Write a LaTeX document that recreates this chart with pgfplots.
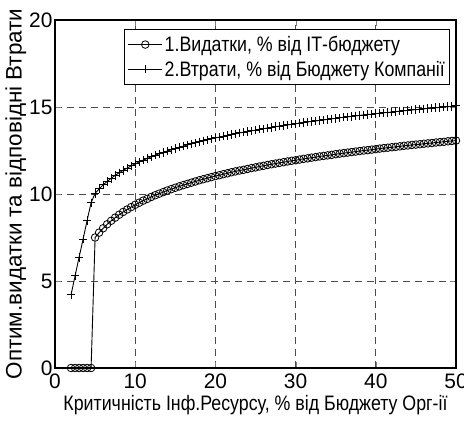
\documentclass[border=0pt]{standalone}
\usepackage{pgfplots}
\pgfplotsset{compat=1.18}
\usepackage{fontspec}
\setmainfont{Liberation Sans}
\newfontfamily\condfont{Liberation Sans}[FakeStretch=0.85]
\begin{document}
\begin{tikzpicture}
\begin{axis}[
  scale only axis,
  width=401bp, height=348bp,
  xmin=0, xmax=50, ymin=0, ymax=20,
  xtick={0,10,20,30,40,50}, ytick={0,5,10,15,20},
  tick align=inside,
  major tick length=6bp,
  xtick pos=both, ytick pos=both,
  /pgf/number format/assume math mode=true,
  tick label style={font=\fontsize{21}{24}\selectfont},
  xticklabel style={yshift=-2bp},
  yticklabel style={xshift=1bp},
  grid=major,
  major grid style={black!70, line width=0.9bp, dash pattern=on 7bp off 5bp},
  axis line style={line width=1.1bp},
  xlabel={\condfont\fontsize{21}{24}\selectfont Критичність Інф.Ресурсу, \% від Бюджету Орг-ії},
  ylabel={\fontsize{22.5}{26}\selectfont Оптим.видатки та відповідні Втрати},
  xlabel style={yshift=0bp},
  ylabel style={yshift=-4bp},
  legend style={at={(0.173,0.975)}, anchor=north west, draw=black, line width=0.9bp,
    font=\condfont\fontsize{21}{24}\selectfont, fill=white, inner xsep=3bp, inner ysep=5bp,
    row sep=4bp, cells={anchor=west}},
  legend cell align=left,
  legend image code/.code={\draw[mark repeat=2, mark phase=2] plot coordinates {(0cm,0cm)(0.6cm,0cm)(1.2cm,0cm)};},
]
\addplot[black, line width=0.9bp, mark=o, mark size=3.8bp, mark options={line width=0.8bp}] coordinates {
(2,0)(2.5,0)(3,0)(3.5,0)(4,0)(4.5,0)
(5,7.50)(5.5,7.78)(6,8.03)(6.5,8.26)(7,8.46)(7.5,8.64)(8,8.81)(8.5,8.97)(9,9.11)(9.5,9.25)
(10,9.38)(10.5,9.50)(11,9.62)(11.5,9.72)(12,9.83)(12.5,9.93)(13,10.02)(13.5,10.11)(14,10.20)(14.5,10.28)
(15,10.36)(15.5,10.44)(16,10.51)(16.5,10.58)(17,10.65)(17.5,10.72)(18,10.79)(18.5,10.85)(19,10.91)(19.5,10.97)
(20,11.03)(20.5,11.08)(21,11.14)(21.5,11.19)(22,11.25)(22.5,11.30)(23,11.35)(23.5,11.39)(24,11.44)(24.5,11.49)
(25,11.53)(25.5,11.58)(26,11.62)(26.5,11.67)(27,11.71)(27.5,11.75)(28,11.79)(28.5,11.83)(29,11.87)(29.5,11.91)
(30,11.94)(30.5,11.98)(31,12.02)(31.5,12.05)(32,12.09)(32.5,12.12)(33,12.16)(33.5,12.19)(34,12.22)(34.5,12.25)
(35,12.29)(35.5,12.32)(36,12.35)(36.5,12.38)(37,12.41)(37.5,12.44)(38,12.47)(38.5,12.50)(39,12.52)(39.5,12.55)
(40,12.58)(40.5,12.61)(41,12.64)(41.5,12.66)(42,12.69)(42.5,12.71)(43,12.74)(43.5,12.77)(44,12.79)(44.5,12.82)
(45,12.84)(45.5,12.86)(46,12.89)(46.5,12.91)(47,12.93)(47.5,12.96)(48,12.98)(48.5,13.00)(49,13.03)(49.5,13.05)
(50,13.07)
};
\addlegendentry{1.Видатки, \% від ІТ-бюджету}
\addplot[black, line width=0.9bp, mark=+, mark size=4.2bp, mark options={line width=1bp}] coordinates {
(2,4.20)(2.5,5.29)(3,6.36)(3.5,7.40)(4,8.47)(4.5,9.50)
(5,10.04)(5.5,10.29)(6,10.52)(6.5,10.72)(7,10.90)(7.5,11.07)(8,11.22)(8.5,11.36)(9,11.49)(9.5,11.62)
(10,11.73)(10.5,11.84)(11,11.95)(11.5,12.04)(12,12.14)(12.5,12.23)(13,12.31)(13.5,12.39)(14,12.47)(14.5,12.54)
(15,12.62)(15.5,12.69)(16,12.75)(16.5,12.82)(17,12.88)(17.5,12.94)(18,13.00)(18.5,13.06)(19,13.11)(19.5,13.17)
(20,13.22)(20.5,13.27)(21,13.32)(21.5,13.37)(22,13.41)(22.5,13.46)(23,13.51)(23.5,13.55)(24,13.59)(24.5,13.63)
(25,13.67)(25.5,13.72)(26,13.75)(26.5,13.79)(27,13.83)(27.5,13.87)(28,13.90)(28.5,13.94)(29,13.97)(29.5,14.01)
(30,14.04)(30.5,14.08)(31,14.11)(31.5,14.14)(32,14.17)(32.5,14.20)(33,14.23)(33.5,14.26)(34,14.29)(34.5,14.32)
(35,14.35)(35.5,14.38)(36,14.41)(36.5,14.44)(37,14.46)(37.5,14.49)(38,14.52)(38.5,14.54)(39,14.57)(39.5,14.59)
(40,14.62)(40.5,14.64)(41,14.67)(41.5,14.69)(42,14.71)(42.5,14.74)(43,14.76)(43.5,14.78)(44,14.81)(44.5,14.83)
(45,14.85)(45.5,14.87)(46,14.89)(46.5,14.92)(47,14.94)(47.5,14.96)(48,14.98)(48.5,15.00)(49,15.02)(49.5,15.04)
(50,15.06)
};
\addlegendentry{2.Втрати, \% від Бюджету Компанії}
\end{axis}
\pgfresetboundingbox
\path ([shift={(-55bp,-56bp)}]current axis.south west) rectangle ([shift={(8bp,20bp)}]current axis.north east);
\end{tikzpicture}
\end{document}
